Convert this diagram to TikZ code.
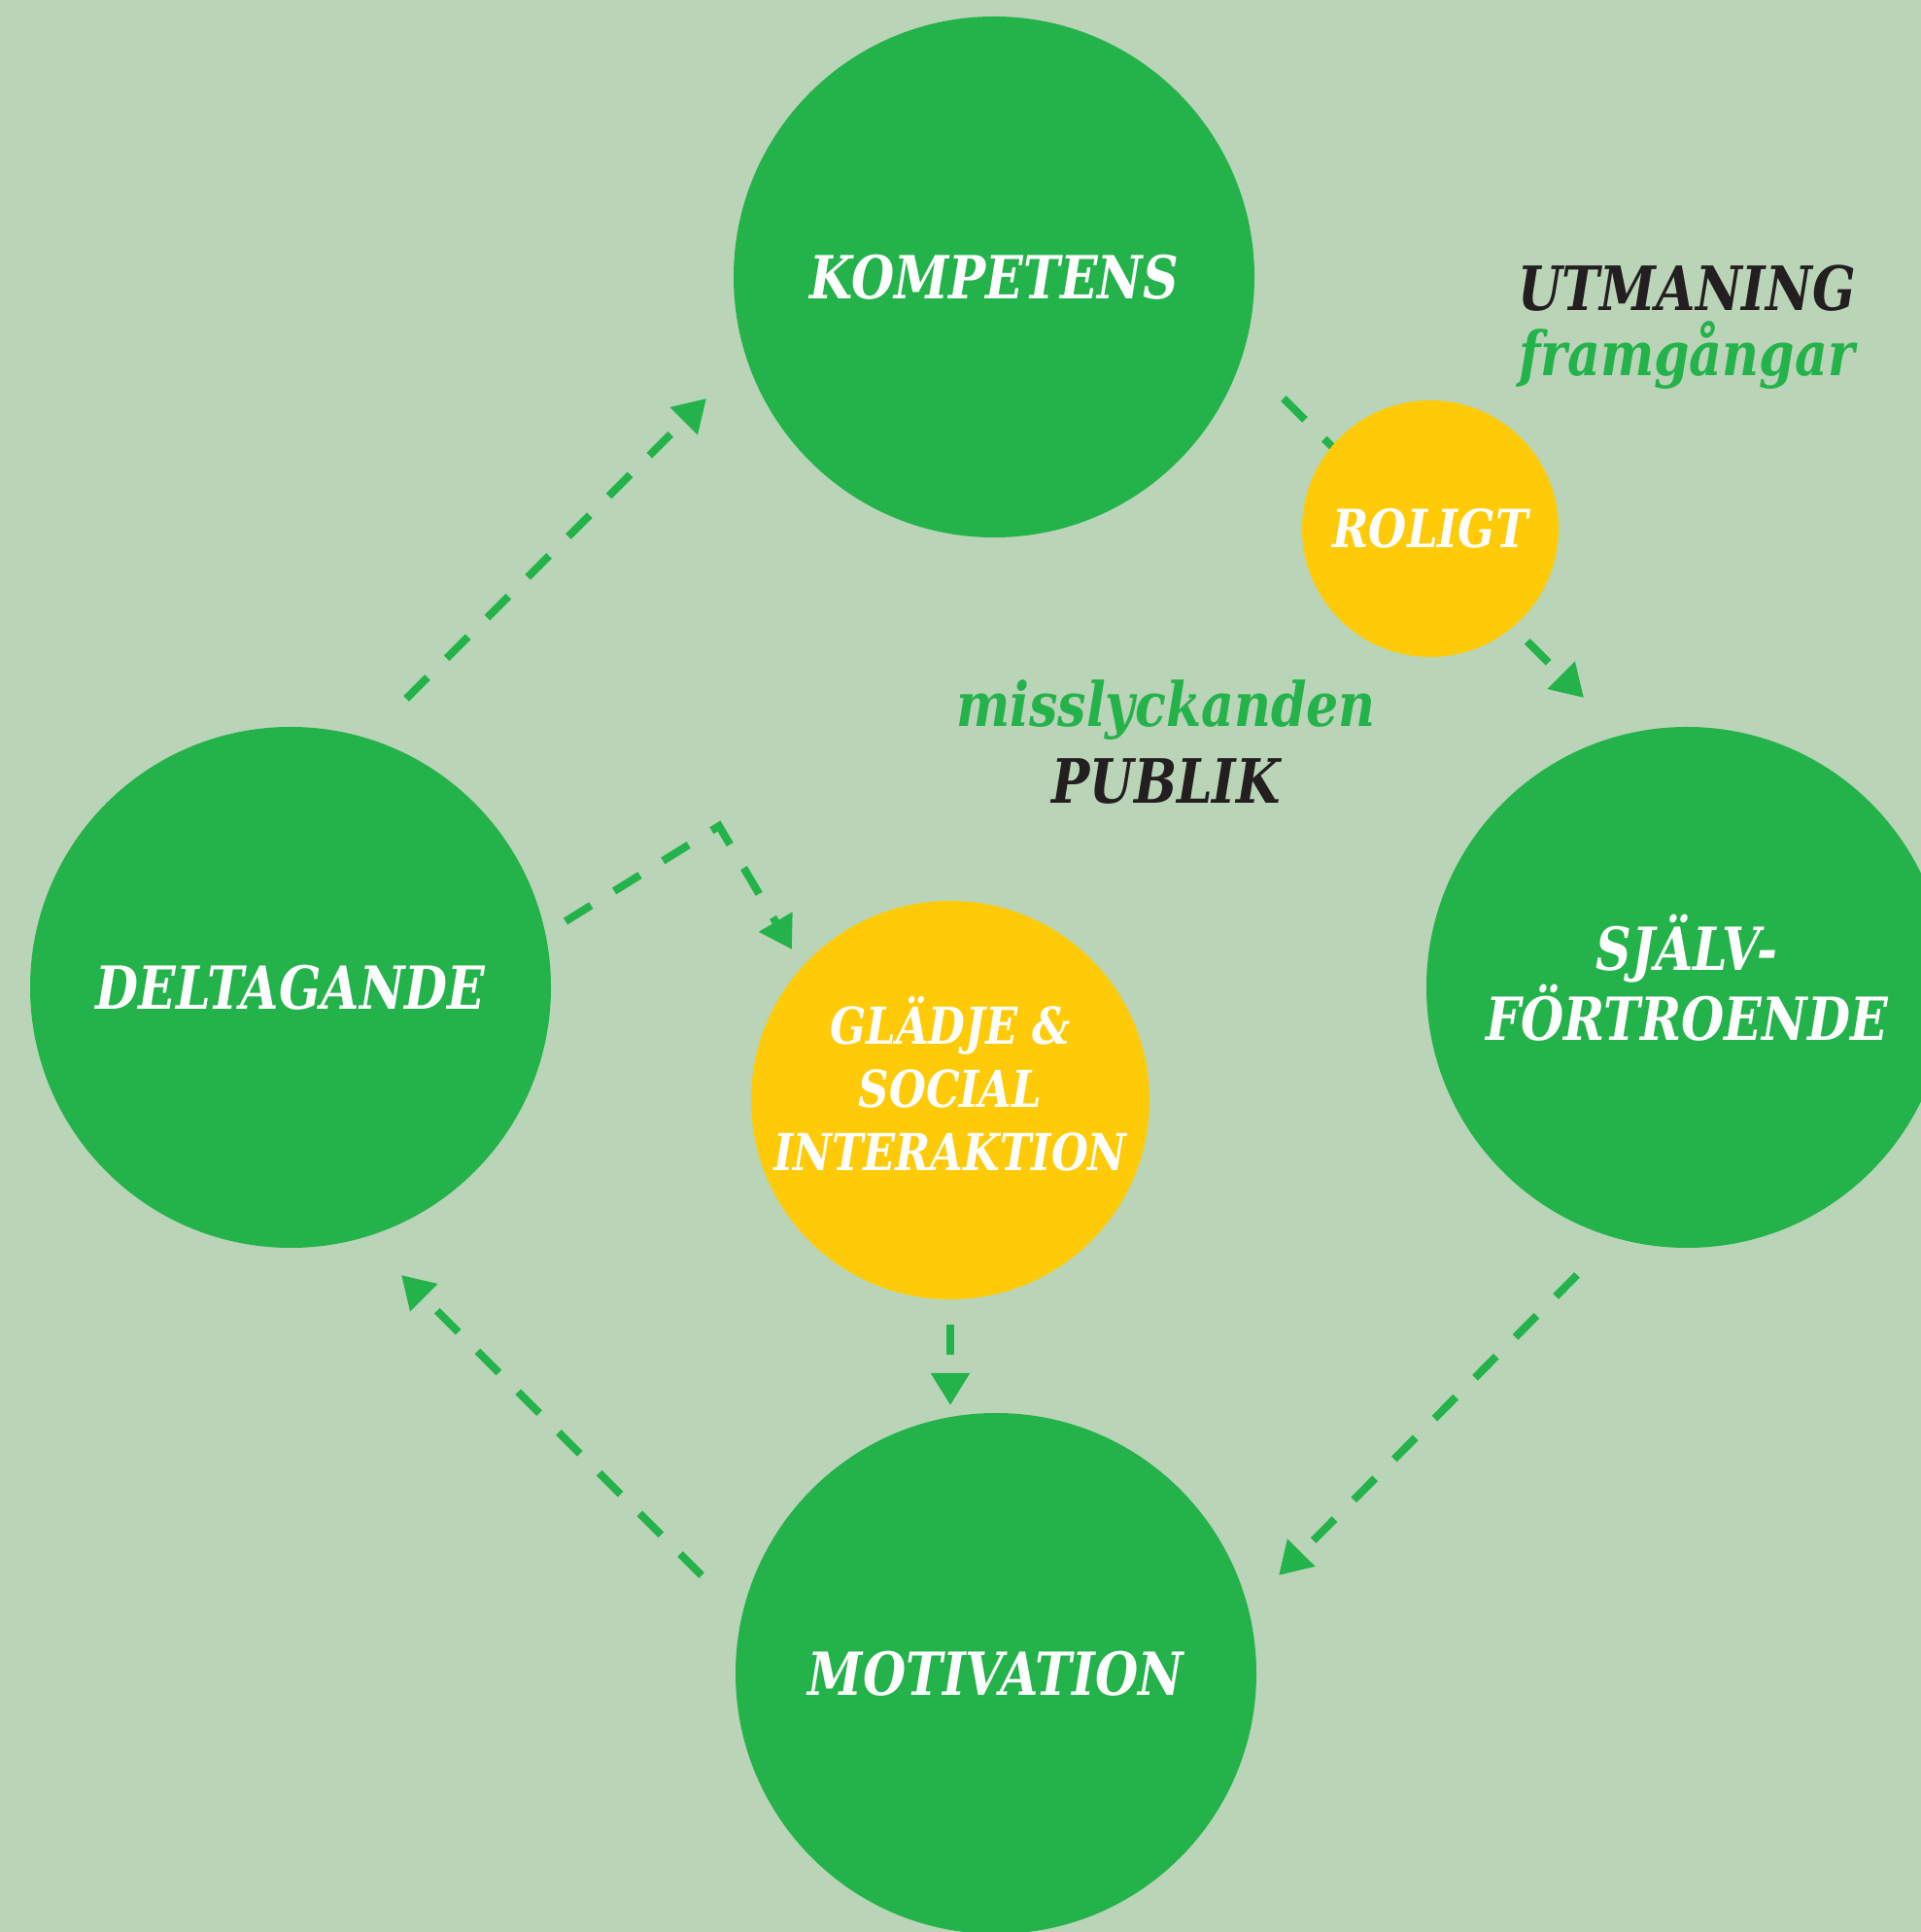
\documentclass[tikz,border=0pt]{standalone}
\usepackage{fontspec}
\setmainfont{DejaVu Serif}[FakeStretch=0.83]
\usepackage{xcolor}
\usetikzlibrary{arrows.meta}
\usetikzlibrary{positioning}

\definecolor{bgsage}{RGB}{185,212,183}
\definecolor{leafgreen}{RGB}{36,178,75}
\definecolor{sunyellow}{RGB}{255,203,8}
\definecolor{inkdark}{RGB}{35,31,32}

\begin{document}
\begin{tikzpicture}[
    % Circle styles
    big circle/.style={circle, fill=leafgreen, minimum size=5.36cm, inner sep=0pt, text=white,
      align=center, font=\bfseries\itshape\fontsize{17.4}{20.5}\selectfont},
    joy circle/.style={circle, fill=sunyellow, inner sep=0pt, text=white, align=center},
    % Inner text set as a label (for small vertical nudges)
    inner text/.style={text=white, align=center, inner sep=0pt},
    % Free labels
    word label/.style={anchor=base, font=\bfseries\itshape\fontsize{17.9}{20.5}\selectfont},
    % Dashed arrow style
    loop edge/.style={-{Triangle[length=0.33cm, width=0.38cm]}, line width=0.08cm,
      draw=leafgreen, dash pattern=on 0.31cm off 0.28cm}
  ]

  % --- Background ---
  \fill[bgsage] (0,0) rectangle (19.77,19.88);
  \useasboundingbox (0,0) rectangle (19.77,19.88);
  \clip (0,0) rectangle (19.77,19.88);

  % --- Edge end points ---
  \coordinate (d1) at (4.18,12.69);  \coordinate (k1) at (7.27,15.78);
  \coordinate (k2) at (13.21,15.78); \coordinate (s2) at (16.30,12.70);
  \coordinate (s3) at (16.23,6.76);  \coordinate (m3) at (13.16,3.67);
  \coordinate (m4) at (7.22,3.67);   \coordinate (d4) at (4.13,6.76);
  \coordinate (d5) at (5.82,10.40);  \coordinate (c5) at (7.40,11.38);
  \coordinate (g5) at (8.15,10.11);
  \coordinate (g6) at (9.78,6.25);   \coordinate (m6) at (9.78,5.42);

  % --- Edge Definitions ---
  \begin{scope}[loop edge]
    \draw (d1) -- (k1);
    \draw (k2) -- (s2);
    \draw (s3) -- (m3);
    \draw (m4) -- (d4);
    \draw (d5) -- (c5) -- (g5);
    \draw (g6) -- (m6);
  \end{scope}

  % --- Node Definitions ---
  \node[big circle] (komp)  at (10.23,17.03) {KOMPETENS};
  \node[big circle] (delt)  at (2.99,9.72)   {DELTAGANDE};
  \node[big circle, label={[inner text, font=\bfseries\itshape\fontsize{17.4}{20.5}\selectfont, yshift=0.1cm]center:{SJÄLV-\\FÖRTROENDE}}]
    (sjalv) at (17.36,9.72) {};
  \node[big circle] (motiv) at (10.25,2.66)  {MOTIVATION};

  \node[joy circle, minimum size=2.64cm, font=\bfseries\itshape\fontsize{15.4}{17}\selectfont]
    (rolig) at (14.72,14.44) {ROLIGT};
  \node[joy circle, minimum size=4.10cm, label={[inner text, font=\bfseries\itshape\fontsize{14.9}{18.5}\selectfont, yshift=0.17cm]center:{GLÄDJE \&\\SOCIAL\\INTERAKTION}}]
    (gladje) at (9.78,8.56) {};

  % --- Side words ---
  \node[word label, text=inkdark]   (utman) at (17.36,16.68) {UTMANING};
  \node[word label, text=leafgreen] (framg) at (17.36,16.01) {framgångar};
  \node[word label, text=leafgreen] (missl) at (12.00,12.40) {misslyckanden};
  \node[word label, text=inkdark]   (publ)  at (12.00,11.61) {PUBLIK};

\end{tikzpicture}
\end{document}
